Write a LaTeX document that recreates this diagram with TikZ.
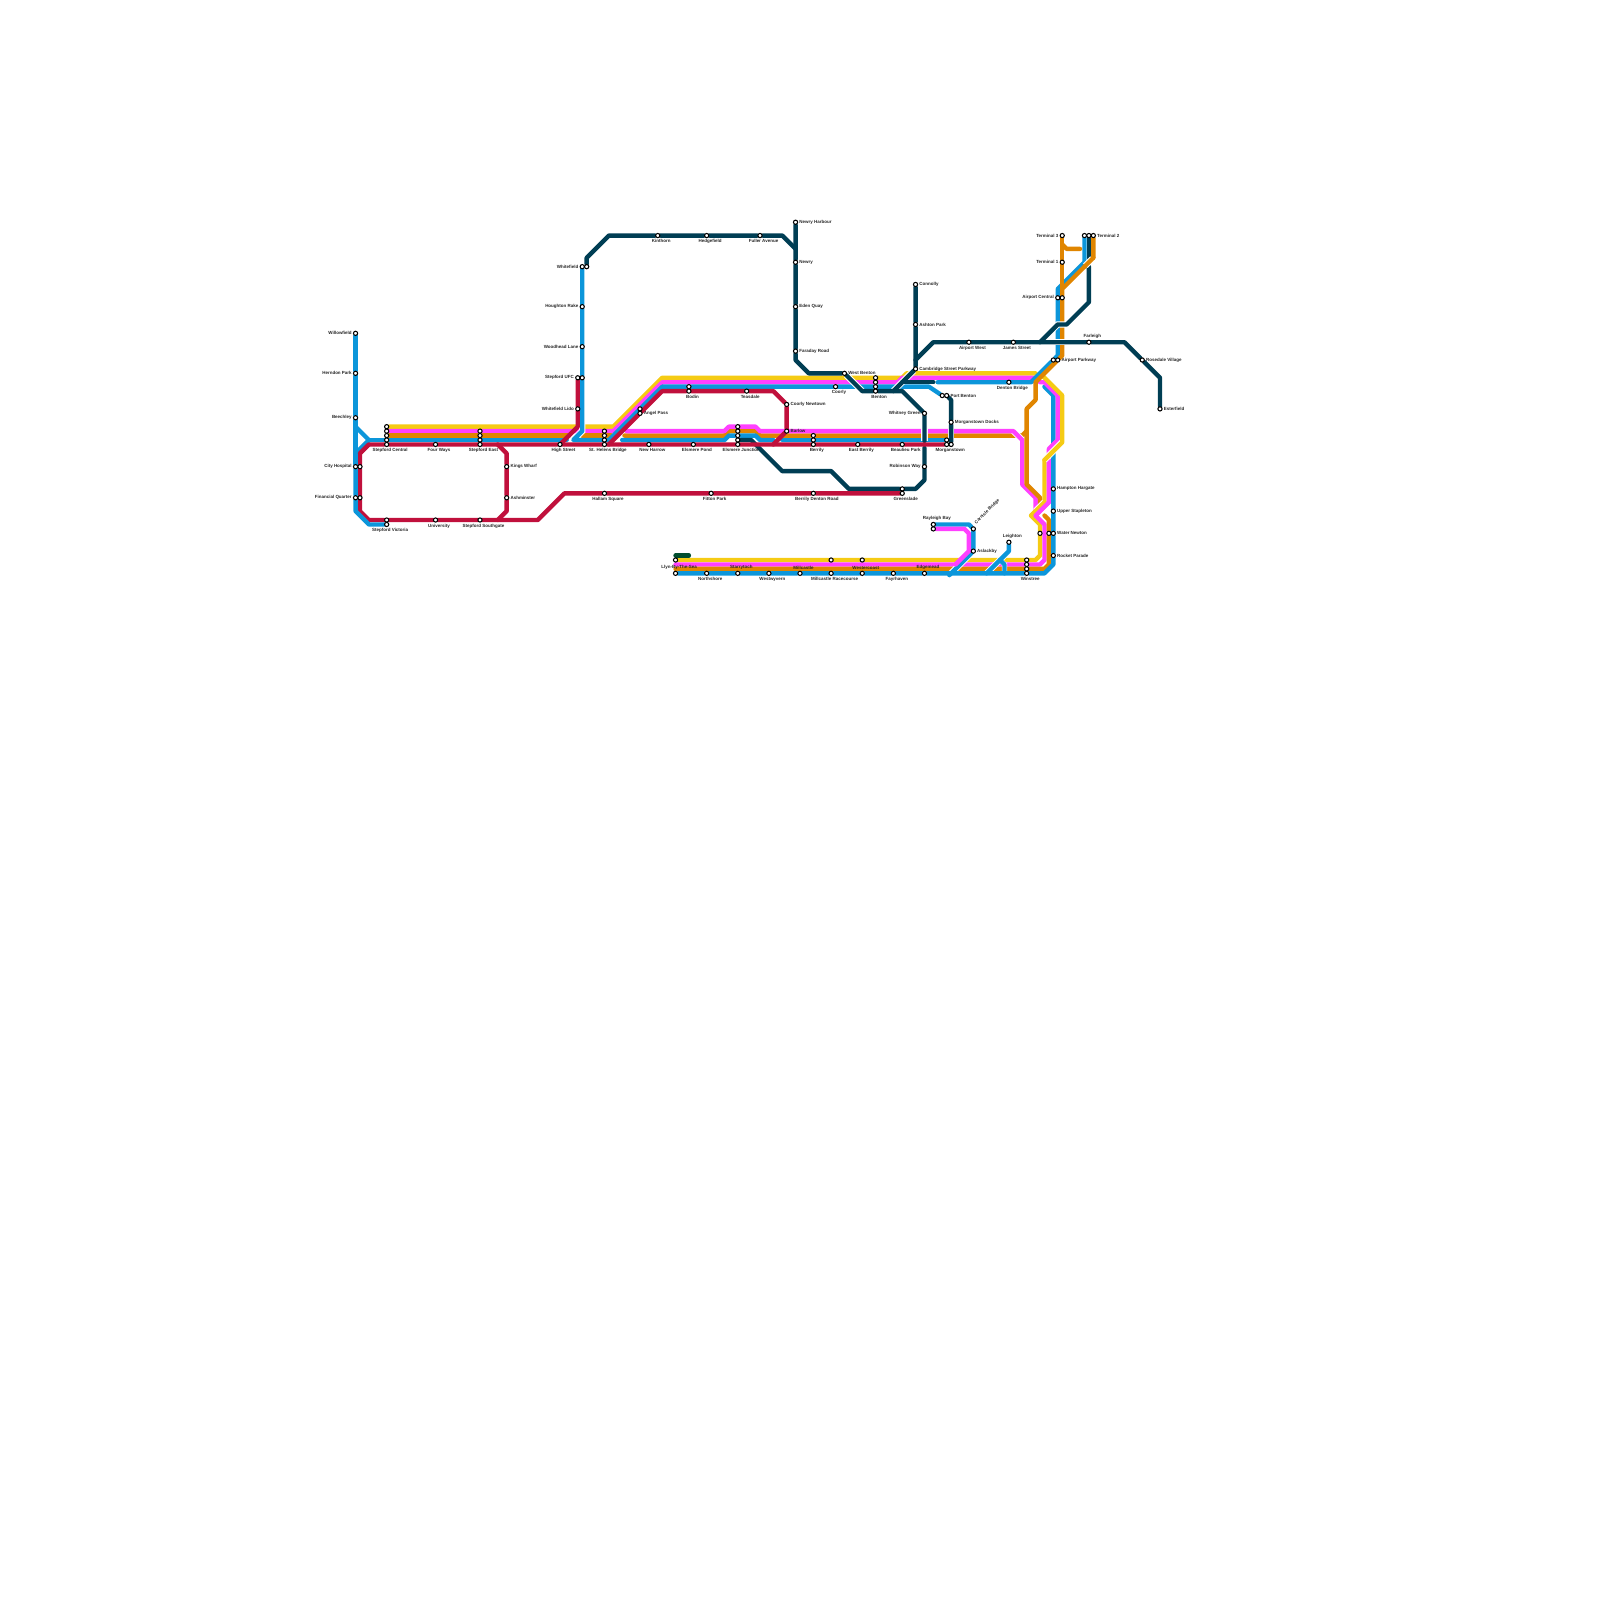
\documentclass[tikz,border=0pt]{standalone}
\usepackage{fontspec}
\setmainfont{Liberation Sans}
\definecolor{mblue}{RGB}{12,150,218}
\definecolor{mred}{RGB}{192,16,60}
\definecolor{mdark}{RGB}{0,62,84}
\definecolor{myellow}{RGB}{245,203,20}
\definecolor{mpink}{RGB}{255,64,255}
\definecolor{morange}{RGB}{224,133,0}
\definecolor{mgreen}{RGB}{0,77,46}
\pgfdeclarelayer{tracks}
\pgfsetlayers{tracks,main}
\tikzset{
  ln/.style={draw=#1,line width=2.5pt,line join=round,line cap=round},
  gap/.style={draw=white,line width=3.6pt},
  stn/.style={circle,draw=black,fill=white,line width=0.6pt,minimum size=2.4pt,inner sep=0pt},
  lbl/.style={font=\fontsize{2.55}{3}\selectfont\bfseries,inner sep=0pt,text=black!85},
  bl/.style={label={[lbl,xshift=2pt]below:#1}},
  al/.style={label={[lbl,xshift=2pt]above:#1}},
  rl/.style={label={[lbl]right:#1}},
  ll/.style={label={[lbl]left:#1}},
}
\begin{document}
\begin{tikzpicture}[x=0.08889cm,y=-0.08889cm,label distance=0.5pt]
  \useasboundingbox (0,0) rectangle (360,360);

  \node[stn,ll=Willowfield] (wfield) at (80,75) {};
  \node[stn,ll=Herndon Park] (herndon) at (80,84) {};
  \node[stn,ll=Beechley] (beechley) at (80,94) {};
  \node[stn,ll=City Hospital] (cityl) at (80,105) {};
  \node[stn] (cityr) at (81,105) {};
  \node[stn,ll=Financial Quarter] (finl) at (80,112) {};
  \node[stn] (finr) at (81,112) {};
  \node[stn] (sc1) at (87,96) {};
  \node[stn] (sc2) at (87,97) {};
  \node[stn] (sc3) at (87,98) {};
  \node[stn] (sc4) at (87,99) {};
  \node[stn,bl=Stepford Central] (sc5) at (87,100) {};
  \node[stn,bl=Four Ways] (fourw) at (98,100) {};
  \node[stn] (se1) at (108,97) {};
  \node[stn] (se2) at (108,98) {};
  \node[stn] (se3) at (108,99) {};
  \node[stn,bl=Stepford East] (se4) at (108,100) {};
  \node[stn,bl=High Street] (highst) at (126,100) {};
  \node[stn] (sh1) at (136,97) {};
  \node[stn] (sh2) at (136,98) {};
  \node[stn] (sh3) at (136,99) {};
  \node[stn,bl=St. Helens Bridge] (sh4) at (136,100) {};
  \node[stn,rl=Kings Wharf] (kings) at (114,105) {};
  \node[stn,rl=Ashminster] (ashm) at (114,112) {};
  \node[stn] (svt) at (87,117) {};
  \node[stn,bl=Stepford Victoria] (svb) at (87,118) {};
  \node[stn,bl=University] (univ) at (98,117) {};
  \node[stn,bl=Stepford Southgate] (ssg) at (108,117) {};
  \node[stn,bl=Hallam Square] (hallam) at (136,111) {};
  \node[stn,bl=Fitton Park] (fitton) at (160,111) {};
  \node[stn,bl=Berrily Denton Road] (bdenton) at (183,111) {};
  \node[stn] (gs1) at (203,110) {};
  \node[stn,bl=Greenslade] (gs2) at (203,111) {};

  \node[stn,ll=Whitefield] (whitel) at (131,60) {};
  \node[stn] (whiter) at (132,60) {};
  \node[stn,ll=Houghton Rake] (hought) at (131,69) {};
  \node[stn,ll=Woodhead Lane] (woodh) at (131,78) {};
  \node[stn,ll=Stepford UFC] (ufcl) at (130,85) {};
  \node[stn] (ufcr) at (131,85) {};
  \node[stn,ll=Whitefield Lido] (lido) at (130,92) {};
  \node[stn,bl=Kinthorn] (kinth) at (148,53) {};
  \node[stn,bl=Hedgefield] (hedge) at (159,53) {};
  \node[stn,bl=Fuller Avenue] (fuller) at (171,53) {};
  \node[stn,rl=Newry Harbour] (newryh) at (179,50) {};
  \node[stn,rl=Newry] (newry) at (179,59) {};
  \node[stn,rl=Eden Quay] (eden) at (179,69) {};
  \node[stn,rl=Faraday Road] (faraday) at (179,79) {};

  \node[stn] (angel1) at (144,92) {};
  \node[stn,rl=Angel Pass] (angel2) at (144,93) {};
  \node[stn] (bodin1) at (155,87) {};
  \node[stn,bl=Bodin] (bodin2) at (155,88) {};
  \node[stn,bl=Teasdale] (teasd) at (168,88) {};
  \node[stn,rl=Coorly Newtown] (coorlyn) at (177,91) {};
  \node[stn,rl=Barlow] (barlow) at (177,97) {};
  \node[stn,bl=Coorly] (coorly) at (188,87) {};
  \node[stn,rl=West Benton] (wbent) at (190,84) {};
  \node[stn] (ben1) at (197,85) {};
  \node[stn] (ben2) at (197,86) {};
  \node[stn] (ben3) at (197,87) {};
  \node[stn,bl=Benton] (ben4) at (197,88) {};
  \node[stn,bl=New Harrow] (newh) at (146,100) {};
  \node[stn,bl=Elsmere Pond] (epond) at (156,100) {};
  \node[stn] (ej1) at (166,96) {};
  \node[stn] (ej2) at (166,97) {};
  \node[stn] (ej3) at (166,98) {};
  \node[stn] (ej4) at (166,99) {};
  \node[stn,bl=Elsmere Junction] (ej5) at (166,100) {};
  \node[stn] (ber1) at (183,98) {};
  \node[stn] (ber2) at (183,99) {};
  \node[stn,bl=Berrily] (ber3) at (183,100) {};
  \node[stn,bl=East Berrily] (eber) at (193,100) {};
  \node[stn,bl=Beaulieu Park] (beaul) at (203,100) {};
  \node[stn] (morg1) at (213,99) {};
  \node[stn,bl=Morganstown] (morg2) at (213,100) {};
  \node[stn] (morg3) at (214,100) {};
  \node[stn,rl=Morganstown Docks] (docks) at (214,95) {};
  \node[stn] (portl) at (212,89) {};
  \node[stn,rl=Port Benton] (portr) at (213,89) {};
  \node[stn,ll=Whitney Green] (whitney) at (208,93) {};
  \node[stn,ll=Robinson Way] (robin) at (208,105) {};
  \node[stn,rl=Connolly] (conn) at (206,64) {};
  \node[stn,rl=Ashton Park] (ashton) at (206,73) {};
  \node[stn,rl=Cambridge Street Parkway] (camb) at (206,83) {};
  \node[stn,bl=Airport West] (airw) at (218,77) {};
  \node[stn,bl=James Street] (james) at (228,77) {};
  \node[stn,bl=Denton Bridge] (denton) at (227,86) {};

  \node[stn] (apl) at (237,81) {};
  \node[stn,rl=Airport Parkway] (apr) at (238,81) {};
  \node[stn,ll=Airport Central] (acl) at (238,67) {};
  \node[stn] (acr) at (239,67) {};
  \node[stn,ll=Terminal 3] (ta) at (239,53) {};
  \node[stn,ll=Terminal 1] (tb) at (239,59) {};
  \node[stn] (tc) at (244,53) {};
  \node[stn] (td) at (245,53) {};
  \node[stn,rl=Terminal 2] (te) at (246,53) {};
  \node[stn,al=Farleigh] (farl) at (245,77) {};
  \node[stn,rl=Rosedale Village] (rose) at (257,81) {};
  \node[stn,rl=Esterfield] (ester) at (261,92) {};
  \node[stn,rl=Hampton Hargate] (hampton) at (237,110) {};
  \node[stn,rl=Upper Stapleton] (upper) at (237,115) {};
  \node[stn] (wnl) at (234,120) {};
  \node[stn] (wnm) at (236,120) {};
  \node[stn,rl=Water Newton] (wnr) at (237,120) {};
  \node[stn,rl=Rocket Parade] (rocket) at (237,125) {};
  \node[stn] (win1) at (231,126) {};
  \node[stn] (win2) at (231,127) {};
  \node[stn] (win3) at (231,128) {};
  \node[stn,bl=Winstree] (win4) at (231,129) {};
  \node[stn,al=Leighton] (leighton) at (227,122) {};
  \node[stn,rl=Aslackby] (asl) at (219,124) {};
  \node[stn,label={[lbl,rotate=45,anchor=west,xshift=1pt,yshift=1pt]45:Carnisle Bridge}] (carn) at (219,119) {};
  \node[stn,al=Rayleigh Bay] (ray1) at (210,118) {};
  \node[stn] (ray2) at (210,119) {};
  \node[stn,al=Edgemead] (edge) at (208,129) {};
  \node[stn,bl=Fayrhaven] (fayr) at (201,129) {};
  \node[stn,al=Westercoast] (westc) at (194,129) {};
  \node[stn] (westt) at (194,126) {};
  \node[stn,bl=Millcastle Racecourse] (mrace) at (187,129) {};
  \node[stn] (mract) at (187,126) {};
  \node[stn,al=Millcastle] (mill) at (180,129) {};
  \node[stn,bl=Westwyvern] (westw) at (173,129) {};
  \node[stn,al=Starrytoch] (starr) at (166,129) {};
  \node[stn,bl=Northshore] (north) at (159,129) {};
  \node[stn,al=Llyn-By-The-Sea] (llyn) at (152,129) {};
  \node[stn] (llynt) at (152,126) {};

  \begin{pgfonlayer}{tracks}
    \draw[ln=myellow] (sc1) -- (138,96) -- (149,85) -- (ben1) -- (203,85) -- (204,84) -- (233,84);
    \draw[ln=mpink] (sc2) -- (se1) -- (sh1) -- (138,97) -- (149,86) -- (ben2) -- (202,86) -- (203,85) -- (232.5,85);
    \draw[ln=morange] (sc3) -- (se2) -- (128,98);
    \draw[ln=morange] (131,98) -- (sh2) -- (137.5,98);
    \draw[ln=mblue] (83,99) -- (sc4) -- (se3) -- (127.5,99);
    \draw[ln=morange] (140.5,98) -- (163,98) -- (164,97) -- (ej2) -- (170,97) -- (171,98) -- (ber1) -- (230,98) -- (231,97);
    \draw[gap] (228,97) -- (230,99);
    \draw[ln=mpink] (141,97) -- (163,97) -- (164,96) -- (ej1) -- (170,96) -- (171,97) -- (barlow) -- (228,97) -- (230,99) -- (230,109) -- (233,112) -- (233,114.5);
    \draw[ln=mblue] (140,99) -- (163,99) -- (164,98) -- (ej3) -- (170,98) -- (171,99) -- (174,99);
    \draw[ln=mblue] (176,99) -- (ber2) -- (morg1);

    \draw[ln=myellow] (llynt) -- (mract) -- (westt) -- (win1) -- (233,126) -- (234,125) -- (wnl) -- (234,118) -- (232,116) -- (235,113) -- (235,103.5);
    \draw[ln=mpink] (152,127) -- (win2) -- (234,127) -- (235,126) -- (235,118) -- (233,116) -- (236,113) -- (236,103.5);
    \draw[ln=morange] (152,128) -- (win3) -- (235,128) -- (236,127) -- (wnm) -- (236,117) -- (235,116);
    \draw[ln=mgreen] (152,125) -- (155,125);

    \draw[gap] (219,124) -- (213.6,129.4);
    \draw[gap] (leighton) -- (227,124) -- (222,129);
    \draw[draw=white,line width=3pt] (225,126) -- (226,127) -- (226,129);
    \draw[ln=mblue] (ray1) -- (218,118) -- (carn) -- (asl) -- (213.6,129.4);
    \draw[ln=mblue] (leighton) -- (227,124) -- (222,129);
    \draw[ln=mblue] (225,126) -- (226,127) -- (226,129);
    \draw[ln=mpink] (ray2) -- (217,119) -- (218,120) -- (218,124) -- (215,127);
    \draw[ln=mblue] (235,87) -- (237,89) -- (hampton) -- (upper) -- (wnr) -- (rocket) -- (237,127) -- (235,129) -- (win4) -- (edge) -- (fayr) -- (westc) -- (mrace) -- (mill) -- (westw) -- (starr) -- (north) -- (llyn);

    \draw[ln=mpink] (234,86) -- (235,86) -- (238,89) -- (238,99) -- (236,101) -- (236,102);
    \draw[gap] (239,99.5) -- (235,103.5);
    \draw[ln=myellow] (234.5,84.5) -- (239,89) -- (239,99.5) -- (235,103.5);
    \draw[ln=morange] (233,86) -- (233,90) -- (231,92) -- (231,109) -- (234,112) -- (234,114.5);
    \draw[gap] (235,113) -- (233,115);
    \draw[ln=myellow] (235,113) -- (232,116);
    \draw[ln=mpink] (236,113) -- (233,116);

    \draw[ln=mblue] (tc) -- (244,59) -- (238,65) -- (acl) -- (238,80) -- (apl) -- (232,86) -- (denton) -- (211,86);
    \draw[ln=morange] (te) -- (246,58) -- (239,65) -- (acr) -- (239,80) -- (apr) -- (233,86);
    \draw[ln=morange] (ta) -- (tb) -- (239,65);
    \draw[ln=morange] (239,55) -- (240,56) -- (243,56);

    \draw[gap] (131,93) -- (131,97) -- (129.5,98.5);
    \draw[ln=mblue] (whitel) -- (hought) -- (woodh) -- (ufcr) -- (131,97) -- (129,99) -- (sh3) -- (137,99) -- (angel1) -- (149,87) -- (bodin1) -- (coorly) -- (ben3) -- (209,87) -- (portl);

    \draw[gap] (wbent) -- (194,88);
    \draw[gap] (camb) -- (201,88);
    \draw[gap] (whitney) -- (208,99.2);
    \draw[gap] (214,90) -- (morg3);
    \draw[gap] (236,75) -- (238,73) -- (240,73) -- (241,72);
    \draw[gap] (236,77) -- (241,77);

    \draw[ln=mdark] (whiter) -- (132,58) -- (137,53) -- (kinth) -- (hedge) -- (fuller) -- (176,53) -- (179,56);
    \draw[ln=mdark] (newryh) -- (newry) -- (eden) -- (faraday) -- (179,81) -- (182,84) -- (wbent) -- (194,88) -- (ben4) -- (203,88) -- (whitney) -- (208,99.2);
    \draw[ln=mdark] (ej4) -- (169,99) -- (176,106) -- (187,106) -- (191,110) -- (gs1) -- (206,110) -- (208,108) -- (robin) -- (208,100.8);
    \draw[ln=mdark] (conn) -- (ashton) -- (camb) -- (201,88);
    \draw[ln=mdark] (203,86) -- (210,86);
    \draw[ln=mdark] (portr) -- (214,90) -- (docks) -- (morg3);
    \draw[ln=mdark] (206,81) -- (210,77) -- (airw) -- (james) -- (farl) -- (253,77) -- (rose) -- (261,85) -- (ester);
    \draw[ln=mdark] (td) -- (245,58);
    \draw[ln=mdark] (245,60) -- (245,68) -- (240,73) -- (238,73) -- (234,77);
    \draw[gap] (244.2,59.8) -- (245.8,58.2);
    \draw[ln=morange] (244,60) -- (246,58);

    \draw[ln=mred] (morg2) -- (beaul) -- (eber) -- (ber3) -- (ej5) -- (epond) -- (newh) -- (sh4) -- (highst) -- (se4) -- (fourw) -- (sc5) -- (83,100) -- (81,102) -- (cityr) -- (finr) -- (81,115) -- (83,117) -- (svt) -- (univ) -- (ssg) -- (121,117) -- (127,111) -- (hallam) -- (fitton) -- (bdenton) -- (gs2);
    \draw[ln=mred] (112,100) -- (114,102) -- (kings) -- (ashm) -- (114,115) -- (112,117);
    \draw[ln=mred] (ufcl) -- (lido) -- (130,96) -- (highst);
    \draw[ln=mred] (137,100) -- (angel2) -- (149,88) -- (bodin2) -- (teasd) -- (174,88) -- (coorlyn) -- (barlow) -- (174,100);

    \draw[ln=mblue] (cityl) -- (finl) -- (80,115) -- (83,118) -- (svb);
    \draw[ln=mblue] (wfield) -- (herndon) -- (beechley) -- (cityl);
    \draw[ln=mblue] (80,96) -- (83,99);
    \draw[ln=mblue] (80,102) -- (83,99);
    \draw[ln=mred] (83,100) -- (81,102);
  \end{pgfonlayer}
\end{tikzpicture}
\end{document}
